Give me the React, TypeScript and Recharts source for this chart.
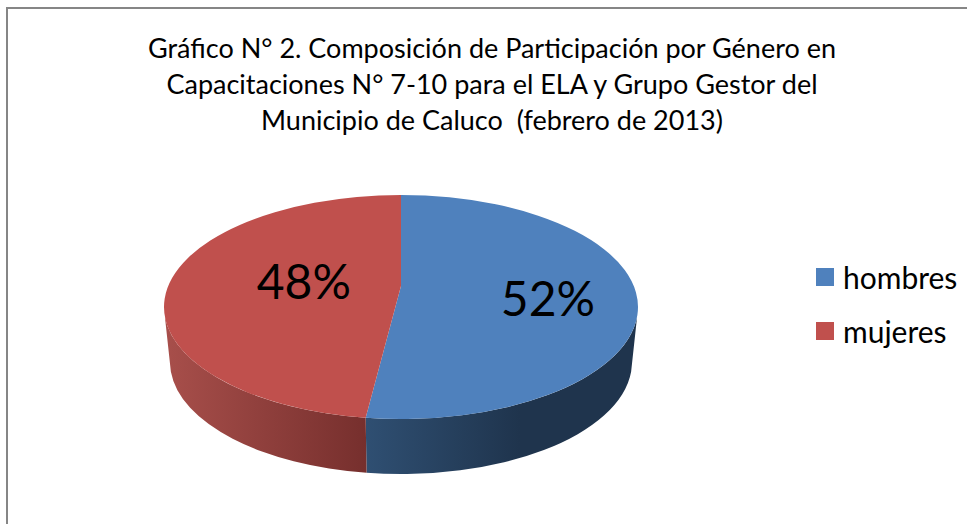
import React from "react";
import { PieChart, Pie, Cell, Legend } from "recharts";

const categories = ["hombres", "mujeres"];
const participants = [11, 10];
const colors = ["#4f81bd", "#c0504d"];
const wallFills = ["url(#wallBlue)", "url(#wallRed)"];
const titleLines = [
  "Gráfico N° 2. Composición de Participación por Género en",
  "Capacitaciones N° 7-10 para el ELA y Grupo Gestor del",
  "Municipio de Caluco  (febrero de 2013)",
];
// label position relative to the pie centre, as a share of the radii
const labelNudges = [
  { x: 0.62, y: -0.04 },
  { x: -0.41, y: -0.11 },
];

const data = categories.map((name, i) => ({ name, value: participants[i] }));

const FONT = "Lato, 'Open Sans', sans-serif";
const SQUASH = 112 / 237; // top ellipse ry / rx
const DEPTH = 55;
const BOTTOM_SCALE = 231 / 237; // the rim gets narrower going down
const APEX_LIFT = 21; // perspective moves the slice tip above the ellipse centre

function pt(cx: number, cy: number, rx: number, ry: number, deg: number) {
  const a = (deg * Math.PI) / 180;
  return [cx + rx * Math.cos(a), cy - ry * Math.sin(a)];
}

// flat sector squashed to an ellipse, with its visible side wall under it
function Slice3D(props: any) {
  const { cx, cy, outerRadius, startAngle, endAngle, fill, index } = props;
  const rx = outerRadius;
  const ry = outerRadius * SQUASH;
  const large = Math.abs(startAngle - endAngle) > 180 ? 1 : 0;
  const [sx, sy] = pt(cx, cy, rx, ry, startAngle);
  const [ex, ey] = pt(cx, cy, rx, ry, endAngle);
  const top = `M${cx},${cy - APEX_LIFT} L${sx},${sy} A${rx},${ry} 0 ${large} 1 ${ex},${ey} Z`;

  // only the front of the rim shows
  const from = Math.min(startAngle, -5);
  const to = Math.max(endAngle, -175);
  const brx = rx * BOTTOM_SCALE;
  const bcy = cy + DEPTH;
  const [ax, ay] = pt(cx, cy, rx, ry, from);
  const [bx, by] = pt(cx, cy, rx, ry, to);
  const [cx2, cy2] = pt(cx, bcy, brx, ry, to);
  const [dx, dy] = pt(cx, bcy, brx, ry, from);
  const wall = `M${ax},${ay} A${rx},${ry} 0 0 1 ${bx},${by} L${cx2},${cy2} A${brx},${ry} 0 0 0 ${dx},${dy} Z`;

  const i = categories.indexOf(props.name ?? props.payload?.name);
  return (
    <g>
      <path d={wall} fill={wallFills[i >= 0 ? i : index]} />
      <path d={top} fill={fill} />
    </g>
  );
}

function SliceLabel(props: any) {
  const { cx, cy, outerRadius, percent, index } = props;
  const n = labelNudges[index];
  return (
    <text
      x={cx + n.x * outerRadius}
      y={cy + n.y * outerRadius}
      textAnchor="middle"
      dominantBaseline="central"
      fontFamily={FONT}
      fontSize={48}
      fill="#000"
    >
      {`${Math.round(percent * 100)}%`}
    </text>
  );
}

function LegendList({ payload }: any) {
  return (
    <div>
      {(payload || []).map((p: any) => (
        <div key={p.value} style={{ display: "flex", alignItems: "center", height: 54 }}>
          <span style={{ width: 18, height: 18, background: p.color, marginRight: 9 }} />
          <span style={{ fontFamily: FONT, fontSize: 30, color: "#000" }}>{p.value}</span>
        </div>
      ))}
    </div>
  );
}

export default function App() {
  return (
    <div style={{ position: "absolute", left: 0, top: 0, width: 967, height: 524, overflow: "hidden" }}>
      <PieChart width={967} height={524} margin={{ top: 0, right: 0, bottom: 0, left: 0 }}>
        <defs>
          <linearGradient id="wallRed" gradientUnits="userSpaceOnUse" x1={164} x2={367} y1={0} y2={0}>
            <stop offset="0%" stopColor="#a84f4b" />
            <stop offset="100%" stopColor="#762f2d" />
          </linearGradient>
          <linearGradient id="wallBlue" gradientUnits="userSpaceOnUse" x1={366} x2={520} y1={0} y2={0}>
            <stop offset="0%" stopColor="#2f4f72" />
            <stop offset="100%" stopColor="#1f344d" />
          </linearGradient>
        </defs>
        <rect x={7} y={8} width={980} height={540} fill="none" stroke="#868686" strokeWidth={2} />
        <text x={492} textAnchor="middle" fontFamily={FONT} fontSize={27} fill="#000">
          {titleLines.map((line, i) => (
            <tspan key={i} x={492} y={58 + i * 36} xmlSpace="preserve">
              {line}
            </tspan>
          ))}
        </text>
        <Pie
          data={data}
          dataKey="value"
          nameKey="name"
          cx={401}
          cy={307}
          outerRadius={237}
          startAngle={90}
          endAngle={-270}
          stroke="none"
          shape={Slice3D}
          label={SliceLabel}
          labelLine={false}
          legendType="square"
          isAnimationActive={false}
        >
          {categories.map((c, i) => (
            <Cell key={c} fill={colors[i]} />
          ))}
        </Pie>
        <Legend
          layout="vertical"
          align="right"
          verticalAlign="top"
          content={LegendList}
          wrapperStyle={{ left: 816, top: 250, width: 151 }}
        />
      </PieChart>
    </div>
  );
}
